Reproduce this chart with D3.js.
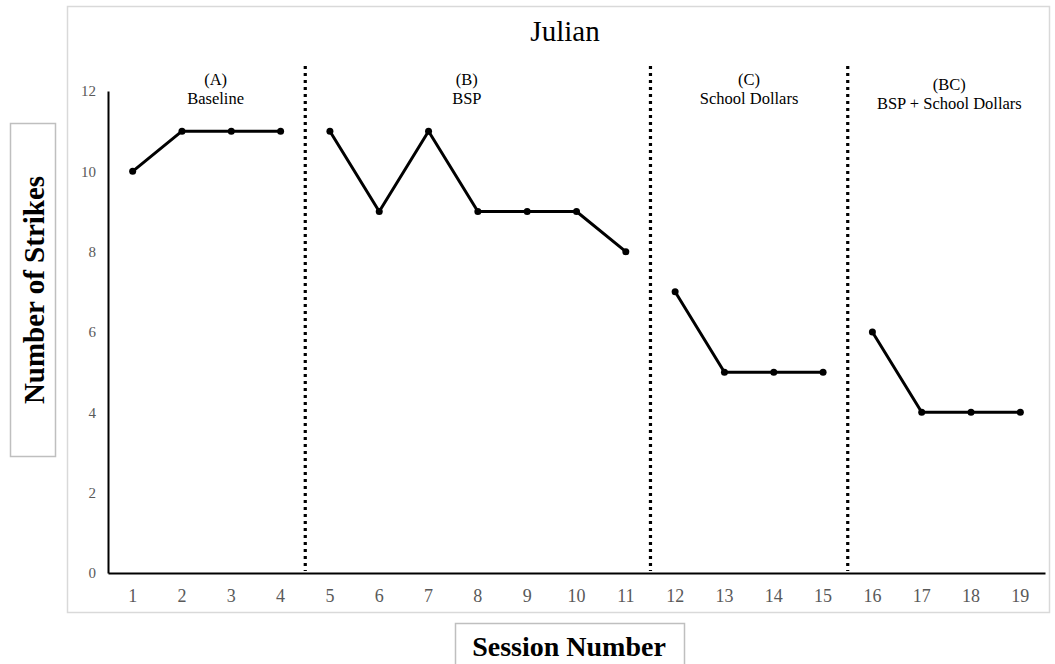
<!DOCTYPE html>
<html><head><meta charset="utf-8">
<script src="https://cdn.jsdelivr.net/npm/d3@7"></script>
<style>body{margin:0;background:#fff}</style>
</head><body>
<svg id="c" width="1055" height="664"></svg>
<script>
const sessions = [1,2,3,4,5,6,7,8,9,10,11,12,13,14,15,16,17,18,19];
const strikes = [10,11,11,11, 11,9,11,9,9,9,8, 7,5,5,5, 6,4,4,4];
const phaseStarts = [1,5,12,16];
const phaseEnds = [4,11,15,19];
const phaseCodes = ["(A)","(B)","(C)","(BC)"];
const phaseNames = ["Baseline","BSP","School Dollars","BSP + School Dollars"];
const yTicks = [0,2,4,6,8,10,12];

const svg = d3.select("#c");
const font = "'Liberation Serif','Times New Roman',serif";
const x = d3.scaleBand().domain(sessions).range([108,1045]);
const y = d3.scaleLinear().domain([0,12]).range([573,91]);
const cx = d => x(d) + x.bandwidth()/2;

// chart border
svg.append("rect").attr("x",67.5).attr("y",6.5).attr("width",982).attr("height",606)
  .attr("fill","none").attr("stroke","#d9d9d9").attr("stroke-width",1.5);

svg.append("text").attr("x",565).attr("y",41).attr("text-anchor","middle")
  .attr("font-family",font).attr("font-size",29).text("Julian");

// axes
const yAxis = svg.append("g").attr("transform","translate(108,0)")
  .call(d3.axisLeft(y).tickValues(yTicks).tickSize(0).tickPadding(12));
yAxis.select(".domain").attr("stroke","#000").attr("stroke-width",2);
yAxis.selectAll("text").attr("font-family",font).attr("font-size",15).attr("fill","#595959");

const xAxis = svg.append("g").attr("transform","translate(0,573)")
  .call(d3.axisBottom(x).tickSize(0).tickPadding(16));
xAxis.select(".domain").attr("stroke","#000").attr("stroke-width",2);
xAxis.selectAll("text").attr("font-family",font).attr("font-size",18).attr("fill","#595959");

// phase dividers
phaseStarts.slice(1).forEach(s=>{
  const xv = x(s);
  svg.append("line").attr("x1",xv).attr("x2",xv).attr("y1",66).attr("y2",571)
    .attr("stroke","#000").attr("stroke-width",3.2).attr("stroke-dasharray","3,4");
});

// phase labels (slight horizontal nudges as in the original)
const labelNudge = [9,-11,0,3];
phaseCodes.forEach((c,i)=>{
  const mid = (cx(phaseStarts[i]) + cx(phaseEnds[i]))/2 + labelNudge[i];
  const dy = i===3 ? 5 : 0;
  svg.append("text").attr("x",mid).attr("y",85+dy).attr("text-anchor","middle")
    .attr("font-family",font).attr("font-size",16.5).text(c);
  svg.append("text").attr("x",mid).attr("y",104+dy).attr("text-anchor","middle")
    .attr("font-family",font).attr("font-size",16.5).text(phaseNames[i]);
});

// data lines per phase
const line = d3.line().x(d=>cx(d.s)).y(d=>y(d.v));
phaseStarts.forEach((s,i)=>{
  const pts = sessions.map((ss,j)=>({s:ss,v:strikes[j]})).filter(d=>d.s>=s && d.s<=phaseEnds[i]);
  svg.append("path").datum(pts).attr("d",line).attr("fill","none")
    .attr("stroke","#000").attr("stroke-width",3).attr("stroke-linejoin","round");
  svg.selectAll(null).data(pts).enter().append("circle")
    .attr("cx",d=>cx(d.s)).attr("cy",d=>y(d.v)).attr("r",3.5).attr("fill","#000");
});

// y title box
svg.append("rect").attr("x",10.5).attr("y",123.5).attr("width",45).attr("height",333)
  .attr("fill","#fff").attr("stroke","#bfbfbf").attr("stroke-width",1.5);
svg.append("text").attr("transform","translate(44,290) rotate(-90)").attr("text-anchor","middle")
  .attr("font-family",font).attr("font-size",29).attr("font-weight","bold").text("Number of Strikes");

// x title box
svg.append("rect").attr("x",455.5).attr("y",623.5).attr("width",229).attr("height",45)
  .attr("fill","#fff").attr("stroke","#bfbfbf").attr("stroke-width",1.5);
svg.append("text").attr("x",569).attr("y",656).attr("text-anchor","middle")
  .attr("font-family",font).attr("font-size",28).attr("font-weight","bold").text("Session Number");
</script>
</body></html>
